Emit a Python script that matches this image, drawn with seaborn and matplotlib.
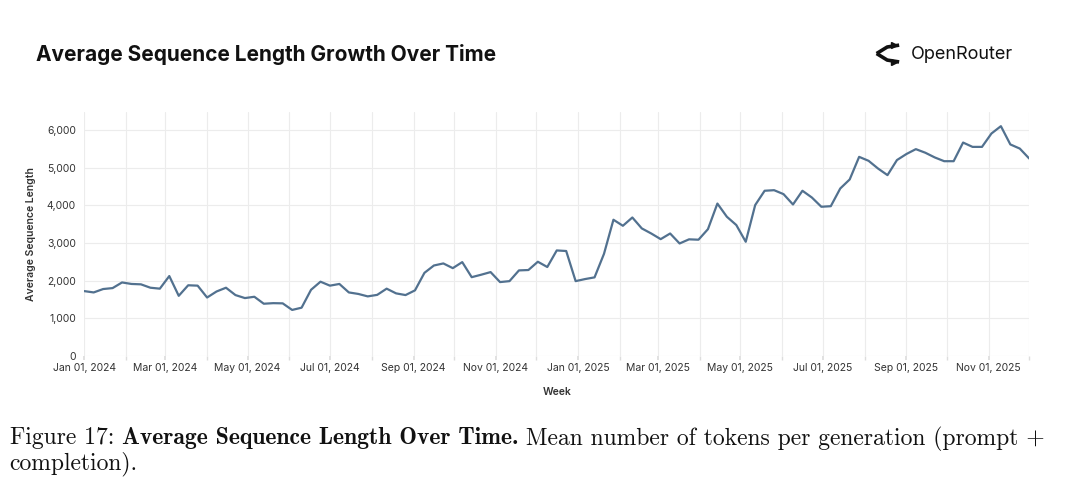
import pandas as pd
import numpy as np
import seaborn as sns
import matplotlib.pyplot as plt
import matplotlib.dates as mdates
from matplotlib.ticker import MultipleLocator, FuncFormatter

# weekly averages, first week 2024-01-01
weeks = pd.date_range("2024-01-01", periods=101, freq="7D")
avg_len = [1725, 1690, 1780, 1805, 1955, 1915, 1905, 1815, 1790, 2125,
           1600, 1880, 1870, 1555, 1715, 1815, 1620, 1540, 1575, 1390,
           1405, 1400, 1225, 1285, 1760, 1975, 1870, 1915, 1690, 1650,
           1585, 1625, 1790, 1665, 1620, 1745, 2210, 2405, 2460, 2335,
           2495, 2095, 2160, 2230, 1965, 1990, 2275, 2285, 2505, 2365,
           2805, 2790, 1990, 2045, 2090, 2715, 3620, 3460, 3680, 3390,
           3255, 3105, 3255, 2990, 3100, 3090, 3370, 4050, 3700, 3480,
           3035, 4010, 4390, 4405, 4300, 4025, 4390, 4210, 3965, 3980,
           4450, 4690, 5290, 5185, 4980, 4805, 5205, 5365, 5495, 5400,
           5275, 5175, 5175, 5670, 5555, 5555, 5910, 6105, 5620, 5510,
           5245]

title = "Average Sequence Length Growth Over Time"
caption_pieces = [("Figure 17: ", "cmr10"),
                  ("Average Sequence Length Over Time.", "cmb10"),
                  (" Mean number of tokens per generation (prompt +", "cmr10")]
caption_line2 = "completion)."

df = pd.DataFrame({"Week": weeks, "Average Sequence Length": avg_len})

sns.set_theme(style="white")
plt.rcParams['font.family'] = ['Inter', 'DejaVu Sans']

fig = plt.figure(figsize=(10.8, 4.98), dpi=100)
ax = fig.add_axes([0.078, 0.285, 0.875, 0.49])

sns.lineplot(data=df, x="Week", y="Average Sequence Length", ax=ax,
             color="#52718f", linewidth=1.6)

ax.set_xlim(weeks[0], weeks[-1])
ax.set_ylim(0, 6480)
ax.yaxis.set_major_locator(MultipleLocator(1000))
ax.yaxis.set_major_formatter(FuncFormatter(lambda v, p: f"{int(v):,}"))
ax.xaxis.set_major_locator(mdates.MonthLocator(bymonth=[1, 3, 5, 7, 9, 11]))
ax.xaxis.set_minor_locator(mdates.MonthLocator())
ax.xaxis.set_major_formatter(mdates.DateFormatter("%b %d, %Y"))

ax.grid(True, which="both", color="#ececec", linewidth=0.8)
for s in ax.spines.values():
    s.set_visible(False)
ax.tick_params(axis="x", which="both", length=3, color="#dddddd", labelsize=7.5,
               pad=2, bottom=True, labelcolor="#333333")
ax.tick_params(axis="y", length=0, labelsize=7.5, pad=6, labelcolor="#333333")
ax.set_xlabel("Week", fontsize=7.5, fontweight="semibold", color="#333333", labelpad=10)
ax.set_ylabel("Average Sequence Length", fontsize=7.5, fontweight="semibold",
              color="#333333", labelpad=8)

# header
fig.text(0.033, 0.891, title, fontsize=15, fontweight="bold", color="#111111",
         va="center", ha="left")
fig.text(0.843, 0.891, "OpenRouter", fontsize=13, color="#111111", va="center", ha="left")
lax = fig.add_axes([0.808, 0.87, 0.027, 0.045])
lax.plot([1.0, 0.55, 0.15], [0.95, 0.85, 0.5], color="#111111", lw=2.6, solid_capstyle="butt")
lax.plot([0.15, 0.55, 1.0], [0.5, 0.15, 0.05], color="#111111", lw=2.6, solid_capstyle="butt")
lax.plot([0.8], [0.95], marker=">", color="#111111", markersize=5)
lax.plot([0.8], [0.05], marker=">", color="#111111", markersize=5)
lax.set_xlim(0, 1.1)
lax.set_ylim(-0.1, 1.1)
lax.axis("off")

# caption, pieces with mixed weights
renderer = fig.canvas.get_renderer()
x = 0.009
for txt, fam in caption_pieces:
    t = fig.text(x, 0.12, txt, fontsize=17, family=fam, color="#111111", va="center", ha="left")
    bb = t.get_window_extent(renderer=renderer)
    x += bb.width / fig.bbox.width
fig.text(0.009, 0.068, caption_line2, fontsize=17, family="cmr10", color="#111111",
         va="center", ha="left")

fig.savefig("out.png", dpi=100)
